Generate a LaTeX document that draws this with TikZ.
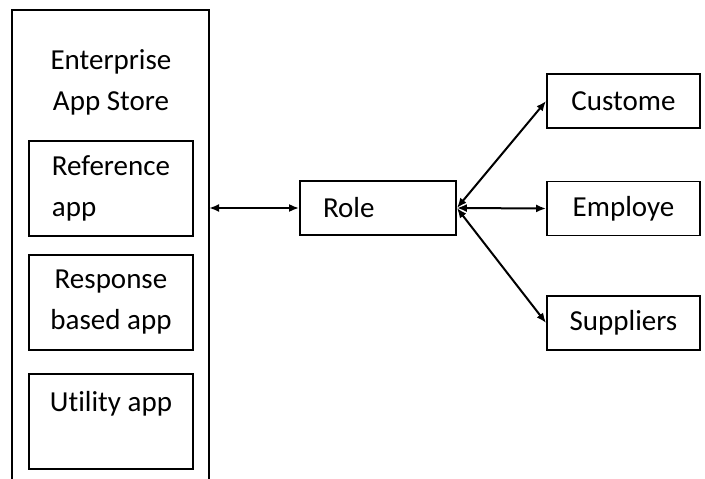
\documentclass[tikz,border=0pt]{standalone}
\usepackage{fontspec}
\setmainfont{Carlito}[Ligatures=NoCommon]
\usetikzlibrary{arrows.meta}
\tikzset{appbox/.style={draw,line width=1.8pt,minimum width=164pt,minimum height=95pt,inner sep=0pt}}
\tikzset{rolebox/.style={draw,line width=1.8pt,minimum height=54pt,inner sep=0pt}}
\tikzset{outbox/.style={draw,line width=1.8pt,minimum width=153pt,minimum height=54pt,inner sep=0pt}}
\tikzset{link/.style={line width=2pt,>={Latex[length=10pt,width=8pt]},<->}}

\begin{document}
\begin{tikzpicture}[x=1pt,y=-1pt,font=\fontsize{29}{41}\selectfont]
        \useasboundingbox (0,0) rectangle (705,479);
        % store frame, open at the bottom
        \coordinate (SW) at (12,479);
        \coordinate (NE) at (209,10);
        \coordinate (SE) at (209,479);
        \draw [line width=1.8pt] (SW) |- (NE) -- (SE);
        \node (S) at (111,82) [align=center] {Enterprise\\App Store};
        \node (A) at (111,188.5) [appbox, align=left] {Reference\\app};
        \node (B) at (111,302.5) [appbox, align=center] {Response\\based app};
        \node (C) at (111,421.5) [appbox, align=left] {Utility app\\\mbox{}};
        % role
        \node (R) at (378,208) [rolebox, align=left, text width=110pt, inner xsep=23pt] {Role};
        \coordinate (E) at (R.west -| NE);
        \draw [link] (E) -- (R);
        % users
        \node (X) at (623.5,101) [outbox] {Custome};
        \node (Y) at (623.5,208.5) [outbox] {Employe};
        \node (Z) at (623.5,323) [outbox] {Suppliers};
        \draw [link] (R.east) -- (X.west);
        \draw [link] (R.east) -- (Y.west);
        \draw [link] (R.east) -- (Z.west);
\end{tikzpicture}
\end{document}
